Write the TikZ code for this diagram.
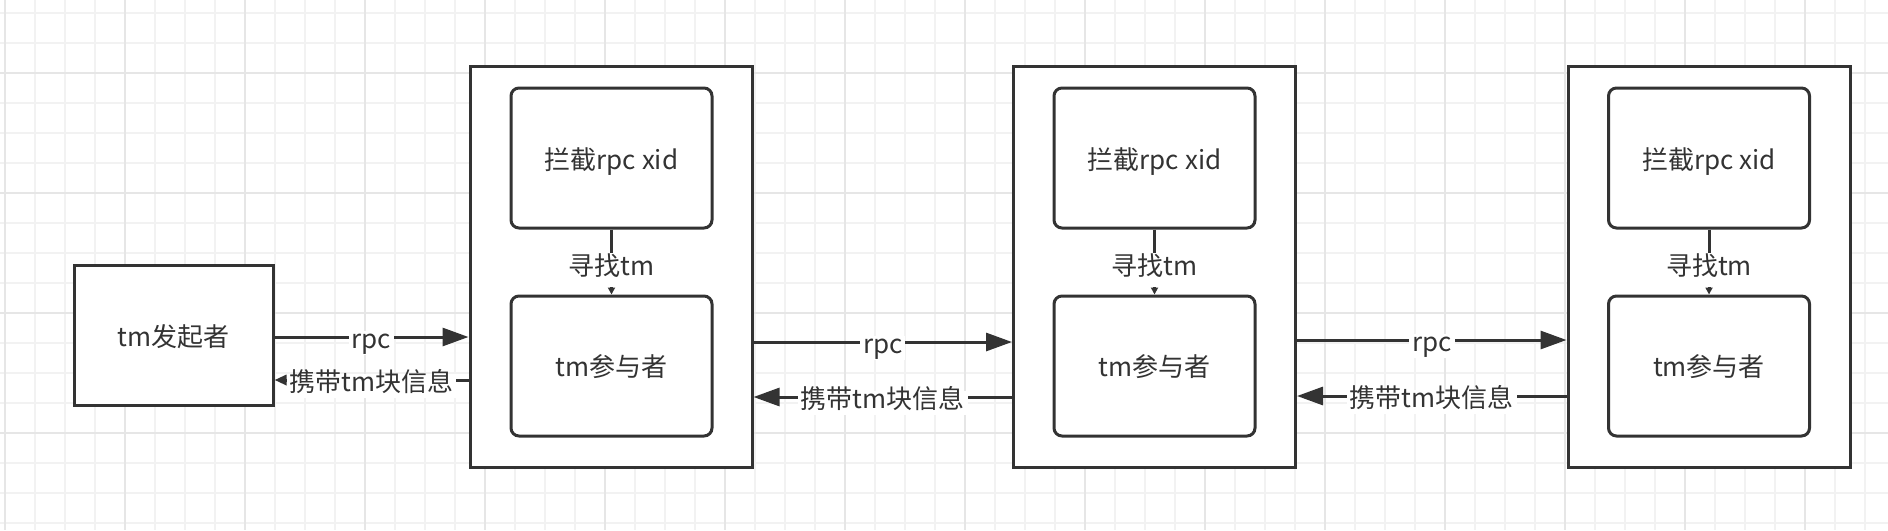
\documentclass[tikz,border=0pt]{standalone}
\usepackage{fontspec}
\setmainfont{Noto Sans CJK SC}
\usetikzlibrary{arrows.meta}
\definecolor{ink}{HTML}{333333}
\definecolor{gminor}{HTML}{F2F2F2}
\definecolor{gmajor}{HTML}{E6E6E6}
\begin{document}
\begin{tikzpicture}[x=0.5pt,y=-0.5pt,
  every node/.style={font=\fontsize{13pt}{15pt}\selectfont, text=ink},
  boxtext/.style={text height=0.8em, text depth=0.2em, inner xsep=0pt, inner ysep=0pt},
  cont/.style={draw=ink, line width=1.5pt, fill=white, minimum width=141pt, minimum height=200.5pt, inner sep=0pt},
  initbox/.style={draw=ink, line width=1.5pt, fill=white, minimum width=99.5pt, minimum height=70pt, inner sep=0pt},
  ibox/.style={draw=ink, line width=1.5pt, fill=white, rounded corners=4pt, minimum width=100.5pt, minimum height=70pt, inner sep=0pt},
  conn/.style={draw=ink, line width=1.5pt},
  big/.style={-{Triangle[length=13pt,width=9pt]}},
  mid/.style={-{Triangle[length=6pt,width=5pt]}},
  tiny/.style={-{Triangle[length=3.5pt,width=3.5pt]}},
  lab/.style={fill=white, inner xsep=1.5pt, inner ysep=1pt, text height=0.75em, text depth=0.25em, yshift=-3pt},
  vlab/.style={fill=white, inner xsep=1.5pt, inner ysep=3.5pt, text height=0.8em, text depth=0.2em, yshift=-1.5pt},
  minor/.style={draw=gminor, line width=1pt},
  major/.style={draw=gmajor, line width=1pt}]
\useasboundingbox (0,0) rectangle (1888,530);
\fill[white] (0,0) rectangle (1888,530);
\foreach \x in {5,35,...,1885} \draw[minor] (\x,0) -- (\x,530);
\foreach \y in {13,43,...,523} \draw[minor] (0,\y) -- (1888,\y);
\foreach \x in {5,125,...,1885} \draw[major] (\x,0) -- (\x,530);
\foreach \y in {73,193,313,433} \draw[major] (0,\y) -- (1888,\y);

\node[initbox] (init) at (173.5,335) {};
\node[boxtext] (initt) at (173.5,340) {tm发起者};

\node[cont] (c1) at (611,266.5) {};
\node[ibox] (a1) at (611.5,158) {};
\node[boxtext] (a1t) at (611.5,163) {拦截rpc xid};
\node[ibox] (b1) at (611.5,366) {};
\node[boxtext] (b1t) at (611.5,370) {tm参与者};

\node[cont] (c2) at (1154.5,266.5) {};
\node[ibox] (a2) at (1154.5,158) {};
\node[boxtext] (a2t) at (1154.5,163) {拦截rpc xid};
\node[ibox] (b2) at (1154.5,366) {};
\node[boxtext] (b2t) at (1154.5,370) {tm参与者};

\node[cont] (c3) at (1709,266.5) {};
\node[ibox] (a3) at (1709,158) {};
\node[boxtext] (a3t) at (1709,163) {拦截rpc xid};
\node[ibox] (b3) at (1709,366) {};
\node[boxtext] (b3t) at (1709,370) {tm参与者};

\foreach \i in {1,2,3}
  \draw[conn,tiny] (a\i.south) -- node[vlab,pos=0.57]{寻找tm} (b\i.north);

\draw[conn,big] (init.east |- 0,337) -- node[lab]{rpc} (c1.west |- 0,337);
\draw[conn,mid] (c1.west |- 0,380) -- node[lab]{携带tm块信息} (init.east |- 0,380);

\draw[conn,big] (c1.east |- 0,342) -- node[lab]{rpc} (c2.west |- 0,342);
\draw[conn,big] (c2.west |- 0,397) -- node[lab]{携带tm块信息} (c1.east |- 0,397);

\draw[conn,big] (c2.east |- 0,340) -- node[lab]{rpc} (c3.west |- 0,340);
\draw[conn,big] (c3.west |- 0,396) -- node[lab]{携带tm块信息} (c2.east |- 0,396);
\end{tikzpicture}
\end{document}
